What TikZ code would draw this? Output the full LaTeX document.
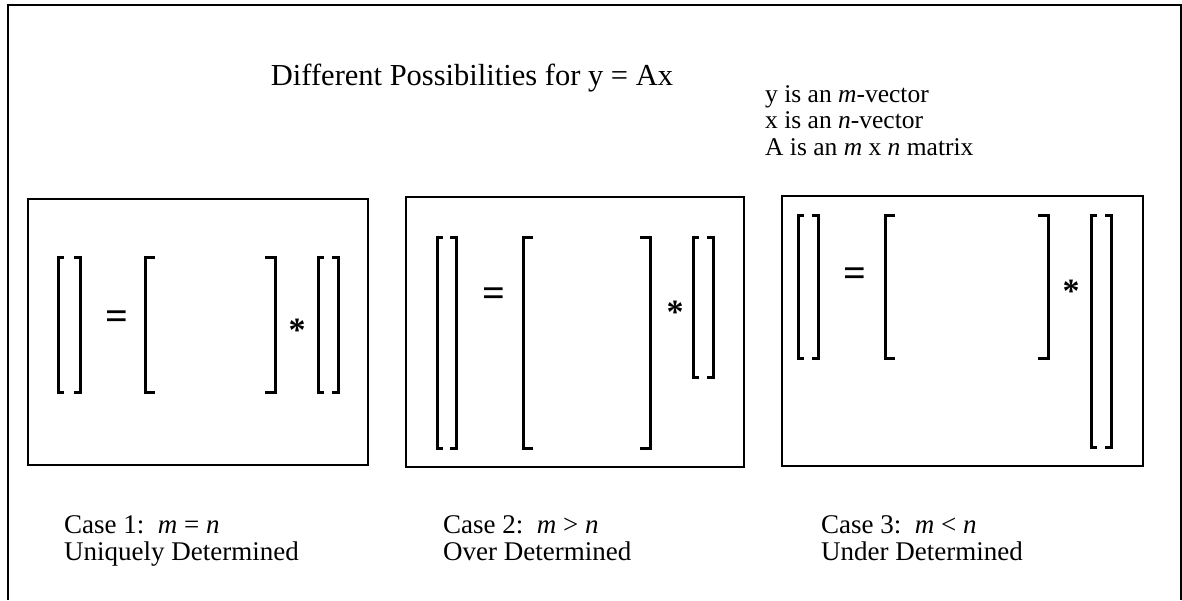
\documentclass[tikz,border=0pt]{standalone}
\usepackage{fontspec}
\setmainfont{Liberation Serif}
\usetikzlibrary{positioning}
% one pair of square brackets: left x, right x, top y, bottom y, serif
\newcommand\brpair[5]{%
  \draw[brk] (#1+#5,#3) -| (#1,#4) -- (#1+#5,#4);
  \draw[brk] (#2-#5,#3) -| (#2,#4) -- (#2-#5,#4);}

\begin{document}
\begin{tikzpicture}[x=1pt,y=-1pt,
        brk/.style={line width=3pt,line join=miter},
        casebox/.style={line width=2pt},
        eqsign/.style={font=\fontsize{40}{40}\selectfont\bfseries,inner sep=0pt},
        times/.style={font=\fontsize{34}{34}\selectfont\bfseries,inner sep=0pt},
        label/.style={font=\fontsize{27}{27}\selectfont,align=left,inner sep=0pt,anchor=north west}]
  \useasboundingbox (0,0) rectangle (1182,600);

  % outer frame (no bottom edge)
  \draw[line width=2.4pt] (8,600) -- (8,5) -- (1181,5) -- (1181,600);

  \node[font=\fontsize{30.5}{30.5}\selectfont,inner sep=0pt] (title) at (472,78)
        {Different Possibilities for y = Ax};
  \node[label,font=\fontsize{25.5}{26.5}\selectfont] (notes) at (765,85)
        {y is an \textit{m}-vector\\x is an \textit{n}-vector\\A is an \textit{m} x \textit{n} matrix};

  % case 1: m = n
  \draw[casebox] (28,199) rectangle (368,465);
  \brpair{58}{80}{257}{392}{6}
  \node[eqsign] (eq1) at (117,320) {=};
  \brpair{145}{275}{257}{392}{10}
  \node[times] (ast1) at (297,330) {*};
  \brpair{318}{338}{257}{392}{6}

  % case 2: m > n
  \draw[casebox] (406,197) rectangle (744,467);
  \brpair{437}{456}{237}{448}{6}
  \node[eqsign] (eq2) at (494,297) {=};
  \brpair{523}{650}{237}{448}{10}
  \node[times] (ast2) at (675,312) {*};
  \brpair{693}{713}{237}{377}{6}

  % case 3: m < n
  \draw[casebox] (782,196) rectangle (1143,466);
  \brpair{798}{818}{215}{358}{6}
  \node[eqsign] (eq3) at (855,277) {=};
  \brpair{885}{1048}{215}{358}{10}
  \node[times] (ast3) at (1071,291) {*};
  \brpair{1091}{1111}{215}{447}{6}

  \node[label] (case1) at (64,515)
        {Case 1:\ \ \textit{m} = \textit{n}\\Uniquely Determined};
  \node[label] (case2) at (443,515)
        {Case 2:\ \ \textit{m} > \textit{n}\\Over Determined};
  \node[label] (case3) at (821,515)
        {Case 3:\ \ \textit{m} < \textit{n}\\Under Determined};
\end{tikzpicture}
\end{document}
